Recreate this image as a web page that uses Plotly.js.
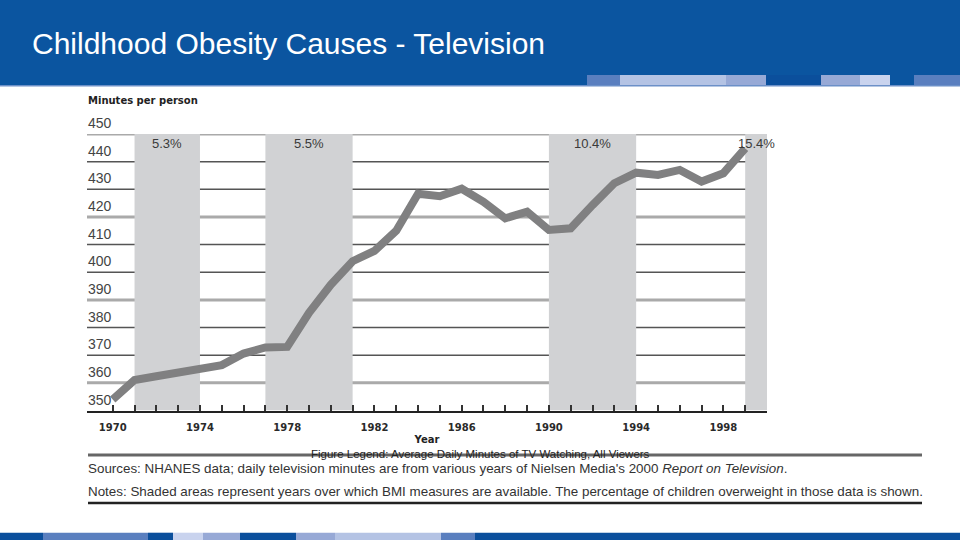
<!DOCTYPE html>
<html>
<head>
<meta charset="utf-8">
<script src="https://cdn.plot.ly/plotly-3.0.1.min.js"></script>
<style>html,body{margin:0;padding:0;background:#fff;}#chart{width:960px;height:540px;}</style>
</head>
<body>
<div id="chart"></div>
<script>
// ---- data ----
const years = [1970,1971,1972,1973,1974,1975,1976,1977,1978,1979,1980,1981,1982,1983,1984,1985,1986,1987,1988,1989,1990,1991,1992,1993,1994,1995,1996,1997,1998,1999];
const minutesPerPerson = [354,361,362.4,363.6,364.8,366.4,370.6,372.8,373,385.3,395.5,404,407.7,415,428.4,427.5,430.2,425.5,419.5,421.9,415.3,415.9,424.3,432.2,436,435.2,437,432.8,435.8,444.8];
const shadeStart = [1971,1977,1990,1999];
const shadeEnd = [1974,1981,1994,2000];
const shadeLabels = ['5.3%','5.5%','10.4%','15.4%'];
const yTicks = [350,360,370,380,390,400,410,420,430,440,450];
const xTickYears = [1970,1971,1972,1973,1974,1975,1976,1977,1978,1979,1980,1981,1982,1983,1984,1985,1986,1987,1988,1989,1990,1991,1992,1993,1994,1995,1996,1997,1998,1999,2000];
const xLabelYears = [1970,1974,1978,1982,1986,1990,1994,1998];
const titleText = 'Childhood Obesity Causes - Television';
const yAxisLabel = 'Minutes per person';
const xAxisLabel = 'Year';
const legendText = 'Figure Legend: Average Daily Minutes of TV Watching, All Viewers';
const sourcesText = "Sources: NHANES data; daily television minutes are from various years of Nielsen Media's 2000 <i>Report on Television</i>.";
const notesText = 'Notes: Shaded areas represent years over which BMI measures are available. The percentage of children overweight in those data is shown.';

// ---- styles ----
const W = 960, H = 540;
const py = v => 1 - v / H;      // pixel-y to paper
const px = v => v / W;          // pixel-x to paper
const headerColor = '#0b55a0';
const gridColors = ['#222','#aaaaaa','#555','#555','#aaaaaa','#555','#555','#aaaaaa','#555','#555','#aaaaaa'];
const gridWidths = [0,3,1.5,1.5,3,1.5,1.5,3,1.5,1.5,3];
const topBlocks = [[587,620,'#5a7fbf'],[620,726,'#b4c3e4'],[726,766,'#97a9d6'],[766,821,'#0b4f9c'],[821,860,'#97a9d6'],[860,890,'#c9d3ee'],[890,914,headerColor],[914,960,'#5a7fbf']];
const bottomBlocks = [[0,43,'#0b4f9c'],[43,148,'#5a7fbf'],[148,173,'#0b4f9c'],[173,203,'#c9d3ee'],[203,240,'#97a9d6'],[240,296,'#0b4f9c'],[296,335,'#97a9d6'],[335,441,'#b4c3e4'],[441,475,'#5a7fbf'],[475,960,'#0b4f9c']];

const shapes = [];
// header band
shapes.push({type:'rect', xref:'paper', yref:'paper', x0:0, x1:1, y0:py(85), y1:1, fillcolor:headerColor, line:{width:0}, layer:'below'});
shapes.push({type:'rect', xref:'paper', yref:'paper', x0:0, x1:1, y0:py(86.5), y1:py(85), fillcolor:'#6c90c8', line:{width:0}, layer:'below'});
topBlocks.forEach(b => shapes.push({type:'rect', xref:'paper', yref:'paper', x0:px(b[0]), x1:px(b[1]), y0:py(85), y1:py(75), fillcolor:b[2], line:{width:0}, layer:'below'}));
bottomBlocks.forEach(b => shapes.push({type:'rect', xref:'paper', yref:'paper', x0:px(b[0]), x1:px(b[1]), y0:0, y1:py(532.7), fillcolor:b[2], line:{width:0}, layer:'below'}));
// shaded BMI periods
shadeStart.forEach((s,i) => shapes.push({type:'rect', xref:'x', yref:'y', x0:s, x1:shadeEnd[i], y0:yTicks[0], y1:yTicks[yTicks.length-1], fillcolor:'#d1d2d4', line:{width:0}, layer:'below'}));
// gridlines
yTicks.forEach((v,i) => { if (gridWidths[i] > 0) shapes.push({type:'line', xref:'paper', yref:'y', x0:px(87), x1:px(767), y0:v, y1:v, line:{color:gridColors[i], width:gridWidths[i]}, layer:'below'}); });
// rules under chart
shapes.push({type:'line', xref:'paper', yref:'paper', x0:px(88), x1:px(922), y0:py(455), y1:py(455), line:{color:'#666', width:3}});
shapes.push({type:'line', xref:'paper', yref:'paper', x0:px(88), x1:px(922), y0:py(503), y1:py(503), line:{color:'#222', width:2.5}});

const annotations = [];
// y tick labels sit above their gridlines, left-aligned
yTicks.forEach(v => annotations.push({xref:'paper', yref:'y', x:px(86), y:v, xanchor:'left', yanchor:'bottom', yshift:1, text:String(v), showarrow:false, font:{family:'Liberation Sans, Arial', size:14, color:'#444'}}));
shadeLabels.forEach((t,i) => annotations.push({xref:'x', yref:'y', x:(shadeStart[i]+shadeEnd[i])/2, y:yTicks[yTicks.length-1], yanchor:'top', yshift:0, text:t, showarrow:false, font:{family:'Liberation Sans, Arial', size:13, color:'#3a3a3a'}}));
annotations.push({xref:'paper', yref:'paper', x:px(86), y:py(101), xanchor:'left', yanchor:'middle', text:'<b>'+yAxisLabel+'</b>', showarrow:false, font:{family:'DejaVu Sans', size:10, color:'#222'}});
annotations.push({xref:'paper', yref:'paper', x:px(480), y:py(454), xanchor:'center', yanchor:'middle', text:legendText, showarrow:false, font:{family:'Liberation Sans, Arial', size:11.5, color:'#222'}});
annotations.push({xref:'paper', yref:'paper', x:px(86), y:py(468), xanchor:'left', yanchor:'middle', text:sourcesText, showarrow:false, font:{family:'Liberation Sans, Arial', size:13.4, color:'#333'}});
annotations.push({xref:'paper', yref:'paper', x:px(86), y:py(491), xanchor:'left', yanchor:'middle', text:notesText, showarrow:false, font:{family:'Liberation Sans, Arial', size:13.4, color:'#333'}});

const trace = {x:years, y:minutesPerPerson, type:'scatter', mode:'lines', line:{color:'#808081', width:8, shape:'linear'}, hoverinfo:'skip'};

const layout = {
  width:W, height:H,
  margin:{l:0,r:0,t:0,b:0},
  paper_bgcolor:'#fff', plot_bgcolor:'rgba(0,0,0,0)',
  showlegend:false,
  title:{text:titleText, x:px(32), xanchor:'left', xref:'paper', y:py(43), yanchor:'middle', yref:'paper', font:{family:'Liberation Sans, Arial', size:30, color:'#ffffff'}},
  xaxis:{
    domain:[px(87), px(767)], range:[1968.82, 2000], fixedrange:true,
    tickmode:'array', tickvals:xTickYears,
    ticktext:xTickYears.map(y => xLabelYears.includes(y) ? '<b>'+y+'</b>' : ''),
    ticks:'inside', ticklen:6, tickwidth:2, tickcolor:'#333',
    showline:true, linecolor:'#222', linewidth:2.5, showgrid:false, zeroline:false,
    ticklabelstandoff:6,
    tickfont:{family:'DejaVu Sans', size:10, color:'#2a2a2a'},
    title:{text:'<b>'+xAxisLabel+'</b>', standoff:4, font:{family:'DejaVu Sans', size:10, color:'#222'}}
  },
  yaxis:{
    domain:[py(410.5), py(134)], range:[350, 450], fixedrange:true,
    showticklabels:false, ticks:'', showgrid:false, zeroline:false, showline:false
  },
  shapes:shapes,
  annotations:annotations
};

Plotly.newPlot('chart', [trace], layout, {staticPlot:true, displayModeBar:false});
</script>
</body>
</html>
